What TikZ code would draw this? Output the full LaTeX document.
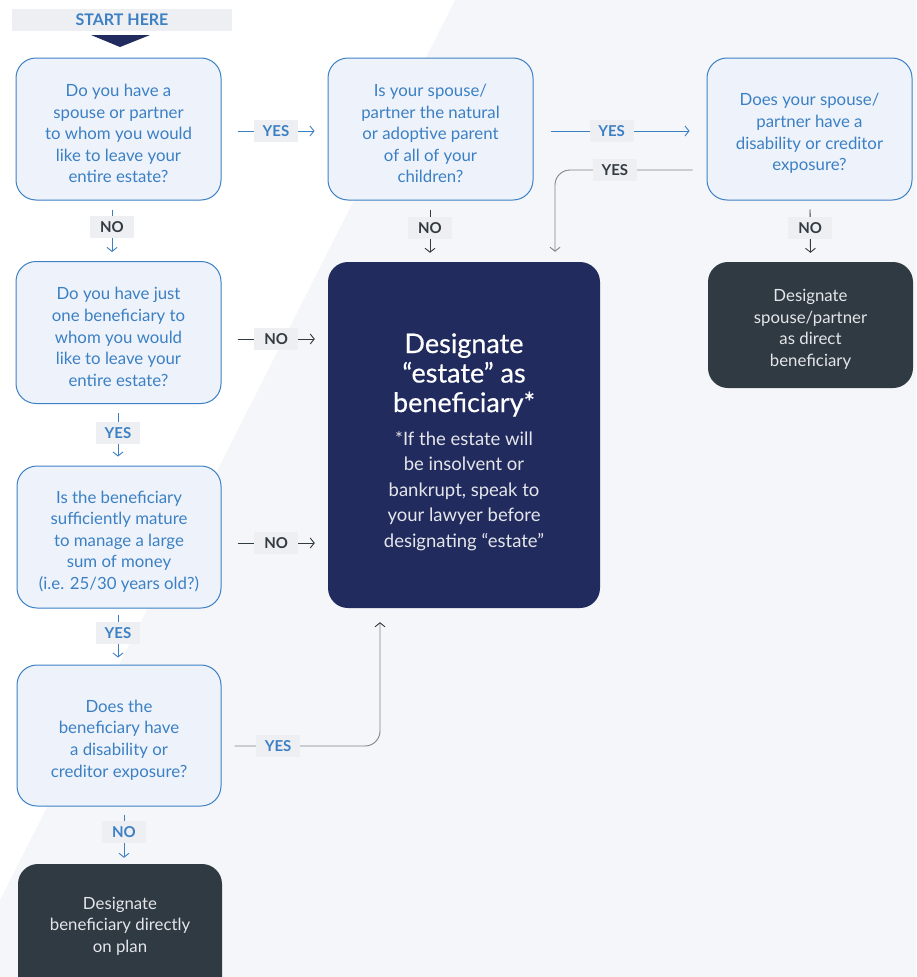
\documentclass[tikz,border=0pt]{standalone}
\usepackage{fontspec}
\setmainfont{Lato}
\newfontfamily\titlefont{Lato}[FakeBold=0.5]
\usetikzlibrary{arrows.meta}
\definecolor{qblue}{HTML}{3C80C4}
\definecolor{qfill}{HTML}{EEF3FB}
\definecolor{navy}{HTML}{212B5E}
\definecolor{darkbox}{HTML}{303A42}
\definecolor{bgright}{HTML}{F5F6F9}
\definecolor{lblbg}{HTML}{EEEFF3}
\definecolor{darktxt}{HTML}{333B42}
\definecolor{grayline}{HTML}{7D848B}
\definecolor{lighttxt}{HTML}{E4E6EA}
\tikzset{
  qbox/.style={draw=qblue, line width=1pt, fill=qfill, rounded corners=20pt,
    minimum width=205pt, minimum height=142pt},
  qtext/.style={align=center, text=qblue, font=\fontsize{16.8}{21.6}\selectfont, inner sep=0pt},
  endbox/.style={fill=darkbox, rounded corners=20pt, minimum width=205pt},
  endtext/.style={align=center, text=lighttxt, font=\fontsize{16.8}{21.6}\selectfont, inner sep=0pt},
  lbl/.style={fill=lblbg, sharp corners, font=\bfseries\fontsize{15}{15}\selectfont,
    minimum width=44pt, minimum height=22pt, inner sep=0pt},
  bluelbl/.style={lbl, text=qblue},
  darklbl/.style={lbl, text=darktxt},
  conn/.style={line width=0.9pt, -{Straight Barb[length=4pt,width=10pt]}},
  blueconn/.style={conn, draw=qblue},
  darkconn/.style={conn, draw=darktxt},
  grayconn/.style={conn, draw=grayline, rounded corners=15pt},
}
\newcommand{\qnode}[4][]{\node[qbox,#1] (#2) at (#3) {};
  \node[qtext] (#2t) at ([yshift=-4.5pt]#2.center) {#4};}
\begin{document}
\begin{tikzpicture}[x=1pt,y=-1pt]
\useasboundingbox (0,0) rectangle (916,977);
\clip (0,0) rectangle (916,977);
% background
\fill[bgright] (0,0) rectangle (916,977);
\fill[white] (0,0) -- (455,0) -- (0,900) -- cycle;

% start
\node[fill=lblbg, minimum width=220pt, minimum height=22pt, inner sep=0pt,
  text=qblue, font=\bfseries\fontsize{16}{16}\selectfont] (start) at (122,20) {START HERE};
\fill[navy] (91,35) -- (150,35) -- (120,47) -- cycle;

% questions
\qnode{q1}{118.5,129}{Do you have a\\spouse or partner\\to whom you would\\like to leave your\\entire estate?}
\qnode{q2}{430.5,129}{Is your spouse/\\partner the natural\\or adoptive parent\\of all of your\\children?}
\qnode{q3}{809.5,129}{Does your spouse/\\partner have a\\disability or creditor\\exposure?}
\qnode{q4}{118.5,332.5}{Do you have just\\one beneficiary to\\whom you would\\like to leave your\\entire estate?}
\qnode[minimum width=204pt]{q5}{119,537}{Is the beneficiary\\sufficiently mature\\to manage a large\\sum of money\\(i.e. 25/30 years old?)}
\qnode[minimum width=204pt, minimum height=141pt]{q6}{119,735.5}{Does the\\beneficiary have\\a disability or\\creditor exposure?}

% big outcome
\node[fill=navy, rounded corners=20pt, minimum width=272pt, minimum height=346pt] (big) at (464,435) {};
\node[text=white, align=center, font=\titlefont\fontsize{27}{29.5}\selectfont] (bigt) at (464,375) {Designate\\“estate” as\\beneficiary*};
\node[text=lighttxt, align=center, font=\fontsize{18.5}{25.5}\selectfont] (bigs) at (464,491) {*If the estate will\\be insolvent or\\bankrupt, speak to\\your lawyer before\\designating “estate”};

% end boxes
\node[endbox, minimum height=126pt] (d1) at (810.5,325) {};
\node[endtext] (d1t) at ([yshift=-4.5pt]d1.center) {Designate\\spouse/partner\\as direct\\beneficiary};
\fill[darkbox, rounded corners=20pt] (18,864) rectangle (222,1010);
\node[minimum width=204pt, minimum height=112pt] (d2) at (120,920) {};
\node[endtext] (d2t) at (120,926) {Designate\\beneficiary directly\\on plan};

% helper coordinates
\coordinate (b1) at ([xshift=91pt,yshift=10pt]big.north);
\coordinate (b2) at ([xshift=-84pt,yshift=-14pt]big.south);

% connectors
\draw[blueconn] ([xshift=16pt,yshift=-2pt]q1.east) -- node[bluelbl]{YES} ([xshift=-13pt,yshift=-2pt]q2.west);
\draw[blueconn] ([xshift=17pt,yshift=-2pt]q2.east) -- node[bluelbl,pos=0.44]{YES} ([xshift=-17pt,yshift=-2pt]q3.west);
\draw[grayconn] ([xshift=-14pt,yshift=-41pt]q3.west) coordinate (a1)
  -- node[darklbl,pos=0.565]{YES} (a1 -| b1) -- (b1);

\draw[blueconn] ([xshift=-6.5pt,yshift=-9pt]q1.south) -- node[darklbl,pos=0.42]{NO} ([xshift=-6.5pt,yshift=9pt]q4.north);
\draw[darkconn] ([xshift=-0.5pt,yshift=-9pt]q2.south) -- node[darklbl,pos=0.42]{NO} ([xshift=-34pt,yshift=9pt]big.north);
\draw[darkconn] ([xshift=0.5pt,yshift=-9pt]q3.south) -- node[darklbl,pos=0.42]{NO} ([yshift=9pt]d1.north);

\draw[darkconn] ([xshift=16pt,yshift=-6.5pt]q4.east) coordinate (c4) -- node[darklbl]{NO} ([xshift=-13pt]c4 -| big.west);
\draw[blueconn] ([xshift=-0.5pt,yshift=-9pt]q4.south) -- node[bluelbl,pos=0.45]{YES} ([xshift=-1pt,yshift=9pt]q5.north);
\draw[darkconn] ([xshift=16pt,yshift=-6pt]q5.east) coordinate (c5) -- node[darklbl]{NO} ([xshift=-13pt]c5 -| big.west);
\draw[blueconn] ([xshift=-1pt,yshift=-6pt]q5.south) -- node[bluelbl,pos=0.43]{YES} ([xshift=-1pt,yshift=7pt]q6.north);
\draw[blueconn] ([xshift=5pt,yshift=-8pt]q6.south) -- node[bluelbl,pos=0.41]{NO} ([xshift=4pt,yshift=6pt]d2.north);

\draw[grayconn, -{Straight Barb[length=4pt,width=10pt,color=darktxt]}] ([xshift=13pt,yshift=-10.5pt]q6.east) coordinate (a2)
  -- node[bluelbl,pos=0.3]{YES} (a2 -| b2) -- (b2);
\end{tikzpicture}
\end{document}
